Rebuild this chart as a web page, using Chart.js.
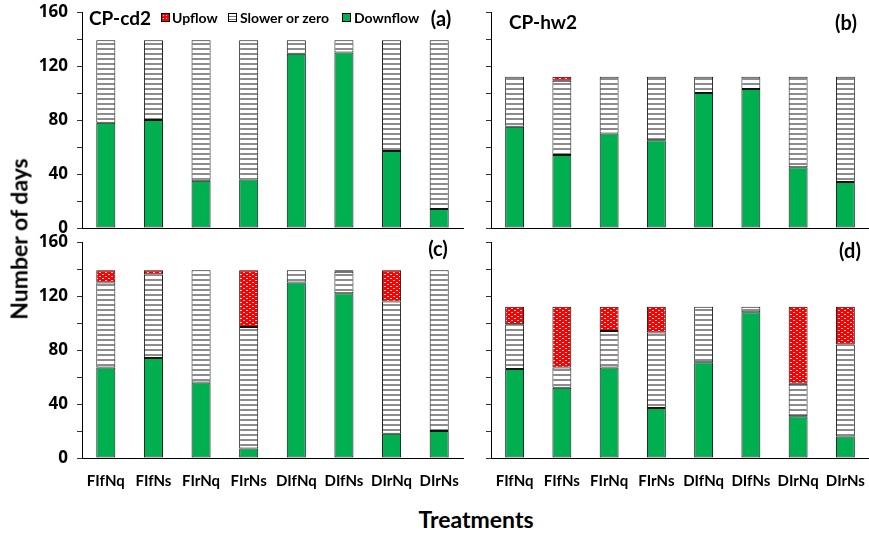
<!DOCTYPE html>
<html><head><meta charset="utf-8">
<script src="https://cdn.jsdelivr.net/npm/chart.js@4"></script>
<style>
html,body{margin:0;padding:0;background:#fff;}
#wrap{position:relative;width:869px;height:533px;overflow:hidden;font-family:Lato,"Open Sans",sans-serif;color:#000;}
canvas{position:absolute;}
.t{position:absolute;white-space:nowrap;line-height:1;font-weight:bold;transform:translateY(-50%);}
.c{transform:translate(-50%,-50%);}
.sw{position:absolute;width:9px;height:9px;border:1px solid #000;box-sizing:border-box;}
</style></head><body>
<div id="wrap">
  <canvas id="pa" width="470" height="240" style="left:0;top:0;width:470px;height:240px"></canvas>
  <canvas id="pb" width="391" height="240" style="left:478px;top:0;width:391px;height:240px"></canvas>
  <canvas id="pc" width="470" height="274" style="left:0;top:226px;width:470px;height:274px"></canvas>
  <canvas id="pd" width="391" height="274" style="left:478px;top:226px;width:391px;height:274px"></canvas>

  <div class="t" style="left:89px;top:17px;font-size:19px">CP-cd2</div>
  <div class="sw" style="left:161px;top:13px;background-color:#f00;background-image:radial-gradient(#fff 35%,transparent 40%);background-size:3px 3px"></div>
  <div class="t" style="left:172px;top:17.5px;font-size:14px">Upflow</div>
  <div class="sw" style="left:228px;top:13px;background:repeating-linear-gradient(to bottom,#fff 0 2px,#777 2px 3px)"></div>
  <div class="t" style="left:240px;top:17.5px;font-size:14px">Slower or zero</div>
  <div class="sw" style="left:342px;top:13px;background:#00B050"></div>
  <div class="t" style="left:354px;top:17.5px;font-size:14px">Downflow</div>
  <div class="t c" style="left:441px;top:18px;font-size:20px">(a)</div>

  <div class="t" style="left:509px;top:20.5px;font-size:19px">CP-hw2</div>
  <div class="t c" style="left:846px;top:22px;font-size:20px">(b)</div>
  <div class="t c" style="left:438px;top:248px;font-size:20px">(c)</div>
  <div class="t c" style="left:850px;top:250px;font-size:20px">(d)</div>

  <div class="t" style="left:18.5px;top:239px;font-size:23px;transform:translate(-50%,-50%) rotate(-90deg)">Number of days</div>
  <div class="t c" style="left:476px;top:519px;font-size:23px">Treatments</div>
</div>
<script>
const categories = ['FIfNq','FIfNs','FIrNq','FIrNs','DIfNq','DIfNs','DIrNq','DIrNs'];
const yTickLabels = [0, 40, 80, 120, 160];

// (a) CP-cd2
const aDown = [78, 80, 35, 36, 129, 130, 57, 14];
const aSlow = [61, 59, 104, 103, 10, 9, 82, 125];
const aUp   = [0, 0, 0, 0, 0, 0, 0, 0];
// (b) CP-hw2
const bDown = [75, 54, 70, 65, 100, 103, 45, 34];
const bSlow = [37, 55, 42, 47, 12, 9, 67, 78];
const bUp   = [0, 3, 0, 0, 0, 0, 0, 0];
// (c) CP-cd2
const cDown = [67, 74, 56, 7, 130, 122, 18, 20];
const cSlow = [63, 62, 83, 90, 9, 16, 98, 119];
const cUp   = [9, 3, 0, 42, 0, 1, 23, 0];
// (d) CP-hw2
const dDown = [66, 52, 67, 37, 71, 108, 31, 16];
const dSlow = [33, 15, 27, 56, 41, 4, 24, 68];
const dUp   = [13, 45, 18, 19, 0, 0, 57, 28];

const FONT = 'Lato, "Open Sans", sans-serif';
const TICKFONT = '"Open Sans", Lato, sans-serif';

function hatchPattern(ctx){
  const c = document.createElement('canvas'); c.width = 4; c.height = 5;
  const x = c.getContext('2d');
  x.fillStyle = '#fff'; x.fillRect(0,0,4,5);
  x.fillStyle = '#8c8c8c'; x.fillRect(0,3,4,2);
  return ctx.createPattern(c, 'repeat');
}
function dotPattern(ctx){
  const c = document.createElement('canvas'); c.width = 6; c.height = 4;
  const x = c.getContext('2d');
  x.fillStyle = '#ff0000'; x.fillRect(0,0,6,4);
  x.fillStyle = '#ffd8d8'; x.fillRect(0,0,2,1); x.fillRect(3,2,2,1);
  return ctx.createPattern(c, 'repeat');
}

function makeChart(id, down, slow, up, opt){
  const ctx = document.getElementById(id).getContext('2d');
  return new Chart(ctx, {
    type: 'bar',
    data: { labels: categories, datasets: [
      { label: 'Downflow', data: down, backgroundColor: '#00B050' },
      { label: 'Slower or zero', data: slow, backgroundColor: hatchPattern(ctx) },
      { label: 'Upflow', data: up, backgroundColor: dotPattern(ctx) }
    ]},
    options: {
      responsive: false, animation: false, devicePixelRatio: 1,
      datasets: { bar: { barPercentage: 0.4, categoryPercentage: 1, borderColor: '#111', borderWidth: 1, borderSkipped: false } },
      layout: { padding: opt.padding },
      plugins: { legend: { display: false }, tooltip: { enabled: false } },
      scales: {
        x: {
          stacked: true,
          grid: { display: false, drawTicks: false, tickLength: 0 },
          border: { display: true, color: '#000', width: 1 },
          ticks: { display: opt.xLabels, color: '#000', padding: 14, maxRotation: 0, autoSkip: false,
                   font: { family: FONT, size: 15, weight: 'bold' } },
          afterFit: s => { s.height = opt.xH; s.paddingLeft = 0; s.paddingRight = 0; }
        },
        y: {
          stacked: true, min: 0, max: 160,
          grid: { drawOnChartArea: false, drawTicks: true, tickLength: 5, color: '#333' },
          border: { display: true, color: '#000', width: 1 },
          ticks: { stepSize: 20, color: '#000', padding: 9, font: { family: TICKFONT, size: 17, weight: 'bold' },
                   callback: v => (opt.yLabels && yTickLabels.includes(v)) ? String(v) : '' },
          afterFit: s => { s.width = opt.yW; s.paddingTop = 0; s.paddingBottom = 0; }
        }
      }
    }
  });
}

makeChart('pa', aDown, aSlow, aUp, { padding: {top:12, right:7, bottom:12, left:0}, xLabels:false, xH:0, yLabels:true, yW:82 });
makeChart('pb', bDown, bSlow, bUp, { padding: {top:12, right:0, bottom:12, left:0}, xLabels:false, xH:0, yLabels:false, yW:13 });
makeChart('pc', cDown, cSlow, cUp, { padding: {top:16, right:7, bottom:0, left:0}, xLabels:true, xH:42, yLabels:true, yW:82 });
makeChart('pd', dDown, dSlow, dUp, { padding: {top:16, right:0, bottom:0, left:0}, xLabels:true, xH:42, yLabels:false, yW:13 });
</script>
</body></html>
